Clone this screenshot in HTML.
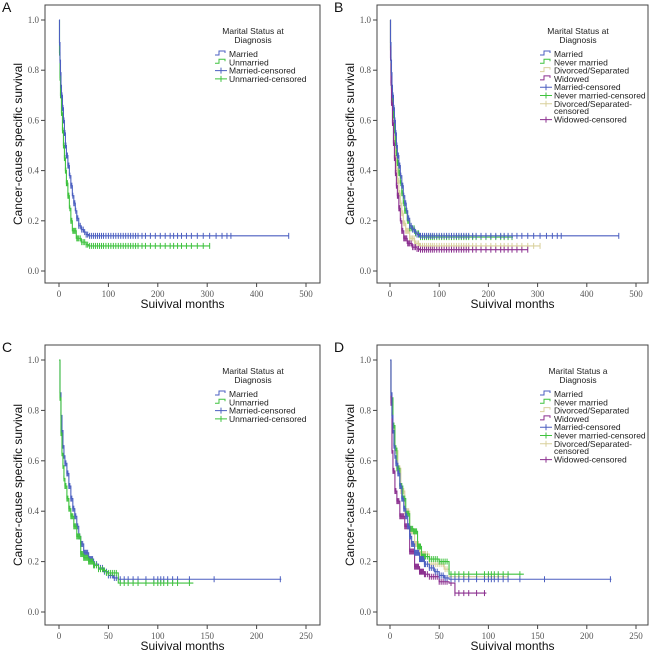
<!DOCTYPE html>
<html><head><meta charset="utf-8">
<style>
body{margin:0;background:#fff;width:650px;height:653px;overflow:hidden}
svg{display:block}
.tick{font-family:"Liberation Serif",serif;font-size:9px;fill:#555}
.leg{font-family:"Liberation Sans",sans-serif;font-size:8.5px;fill:#222}
.ttl{font-family:"Liberation Sans",sans-serif;font-size:12px;fill:#111}
.let{font-family:"Liberation Sans",sans-serif;font-size:14px;fill:#111}
</style></head>
<body>
<svg id="chart" width="650" height="653"></svg>
<script>
// ---- data ----
const yTicks=[0,0.2,0.4,0.6,0.8,1.0];
const xTicksAB=[0,100,200,300,400,500];
const xTicksCD=[0,50,100,150,200,250];
const aMarried=[[0,1],[1,0.91],[2,0.84],[3,0.79],[4,0.74],[5,0.70],[7,0.65],[9,0.60],[11,0.55],[13,0.50],[15,0.46],[18,0.42],[21,0.38],[24,0.34],[27,0.30],[30,0.27],[33,0.24],[36,0.21],[40,0.18],[45,0.165],[50,0.155],[55,0.145],[60,0.14],[465,0.14]];
const aUnmarried=[[0,1],[1,0.87],[2,0.77],[3,0.70],[5,0.63],[7,0.56],[9,0.50],[11,0.45],[13,0.40],[15,0.35],[18,0.30],[21,0.25],[24,0.20],[27,0.16],[35,0.13],[45,0.115],[55,0.105],[60,0.10],[305,0.10]];
const bNever=[[0,1],[1,0.88],[2,0.79],[3,0.73],[5,0.67],[7,0.62],[9,0.56],[11,0.51],[13,0.47],[15,0.43],[18,0.39],[21,0.35],[24,0.31],[27,0.27],[30,0.24],[35,0.20],[40,0.17],[50,0.15],[60,0.135],[250,0.135]];
const bDivorced=[[0,1],[1,0.89],[2,0.80],[3,0.73],[5,0.65],[7,0.58],[9,0.52],[11,0.46],[13,0.41],[15,0.36],[18,0.31],[21,0.27],[24,0.23],[27,0.19],[32,0.16],[40,0.13],[50,0.11],[60,0.10],[305,0.10]];
const bWidowed=[[0,1],[1,0.85],[2,0.75],[3,0.67],[5,0.59],[7,0.51],[9,0.45],[11,0.39],[13,0.34],[15,0.30],[18,0.25],[21,0.20],[24,0.16],[28,0.13],[35,0.11],[45,0.095],[55,0.088],[60,0.085],[280,0.085]];
const cMarried=[[0,1],[1,0.87],[2,0.78],[3,0.72],[4,0.66],[5,0.62],[6,0.59],[8,0.55],[10,0.50],[12,0.45],[14,0.41],[16,0.38],[18,0.34],[20,0.30],[22,0.27],[25,0.235],[30,0.21],[35,0.19],[40,0.175],[45,0.16],[50,0.145],[55,0.135],[60,0.13],[225,0.13]];
const cUnmarried=[[0,1],[1,0.85],[2,0.71],[3,0.63],[4,0.58],[5,0.53],[6,0.50],[8,0.45],[10,0.41],[12,0.38],[15,0.34],[18,0.30],[22,0.23],[25,0.215],[30,0.20],[35,0.185],[40,0.17],[45,0.165],[48,0.155],[60,0.115],[136,0.115]];
const dNever=[[0,1],[1,0.85],[3,0.74],[5,0.65],[7,0.57],[10,0.50],[13,0.45],[16,0.39],[20,0.33],[24,0.32],[28,0.26],[32,0.22],[40,0.21],[50,0.20],[60,0.15],[136,0.15]];
const dDivorced=[[0,1],[1,0.84],[3,0.72],[5,0.64],[8,0.57],[11,0.48],[15,0.40],[20,0.32],[25,0.27],[30,0.23],[40,0.19],[55,0.17],[60,0.14],[120,0.14]];
const dWidowed=[[0,1],[1,0.83],[2,0.64],[3,0.56],[5,0.48],[7,0.44],[10,0.38],[15,0.34],[20,0.24],[25,0.18],[30,0.16],[35,0.15],[40,0.14],[50,0.12],[60,0.115],[66,0.075],[98,0.075]];
const censLongAB=[62,66,70,74,78,82,86,90,95,100,105,110,115,120,125,130,135,140,145,150,155,160,168,175,185,195,205,215,225,232,240,248,258,268,280,292,305,318,330,340,348,465];
const censEarlyAB=[1,2,3,4,5,6,7,8,9,10,11,12,13,14,15,16,17,18,19,20,22,24,26,28,30,32,34,36,38,40,43,46,49,52,55,58];
const censLongC=[62,66,70,75,80,88,96,100,103,106,110,115,120,132,157,224];
const censEarlyC=[1,2,3,4,5,6,7,8,9,10,11,12,13,14,15,16,17,18,19,20,21,22,23,24,25,26,27,28,29,30,31,32,33,34,35,36,38,40,42,44,46,48,50,52,54,56,58];

const COL={blue:"#4b5fc0",green:"#3fc23f",tan:"#d9d09c",purple:"#8b2f8f"};
const svg=document.getElementById('chart');
const NS="http://www.w3.org/2000/svg";
function mk(tag,attrs,parent){const e=document.createElementNS(NS,tag);for(const k in attrs)e.setAttribute(k,attrs[k]);(parent||svg).appendChild(e);return e;}
function survAt(curve,t){let v=curve[0][1];for(const p of curve){if(p[0]<=t)v=p[1];else break;}return v;}

function panel(cfg){
  const g=mk('g',{});
  
  
  const xs=t=>cfg.x0+(t/cfg.xmax)*(cfg.x1-cfg.x0);
  const ys=v=>cfg.y0-v*(cfg.y0-cfg.y1);
  const L=mk('text',{x:cfg.bx-43,y:cfg.by+7,class:'let'},g);L.textContent=cfg.letter;
  
  const box=mk('rect',{x:cfg.bx,y:cfg.by,width:cfg.bw,height:cfg.bh,fill:'none',stroke:'#444','stroke-width':1},g);
  
  yTicks.forEach(v=>{
    mk('line',{x1:cfg.bx-4,x2:cfg.bx,y1:ys(v),y2:ys(v),stroke:'#444'},g);
    const t=mk('text',{x:cfg.bx-6,y:ys(v)+3,'text-anchor':'end',class:'tick'},g);t.textContent=v.toFixed(1);
    
  });
  cfg.xt.forEach(v=>{
    mk('line',{x1:xs(v),x2:xs(v),y1:cfg.by+cfg.bh,y2:cfg.by+cfg.bh+4,stroke:'#444'},g);
    const t=mk('text',{x:xs(v),y:cfg.by+cfg.bh+14,'text-anchor':'middle',class:'tick'},g);t.textContent=v;
    
  });
  const xt=mk('text',{x:cfg.bx+cfg.bw/2,y:cfg.by+cfg.bh+25,'text-anchor':'middle',class:'ttl'},g);xt.textContent='Suivival months';
  
  const cy=cfg.by+cfg.bh/2;
  const yt=mk('text',{x:cfg.bx-23,y:cy,'text-anchor':'middle',class:'ttl',transform:`rotate(-90 ${cfg.bx-23} ${cy})`},g);yt.textContent='Cancer-cause specific survival';
  
  cfg.series.forEach(s=>{
    let d='M'+xs(s.c[0][0])+','+ys(s.c[0][1]);
    for(let i=1;i<s.c.length;i++){d+='H'+xs(s.c[i][0])+'V'+ys(s.c[i][1]);}
    const p=mk('path',{d:d,fill:'none',stroke:s.col,'stroke-width':1.1},g);
    
    const last=s.c[s.c.length-1][0];
    s.cens.filter(t=>t<=last).forEach(t=>{
      const m=mk('path',{d:`M${xs(t)},${ys(survAt(s.c,t))-3}v6`,stroke:s.col,'stroke-width':1},g);
      
    });
  });
  const lx=cfg.lx, ly=cfg.ly;
  const t1=mk('text',{x:lx+38,y:ly,'text-anchor':'middle',class:'leg','font-size':'9.5'},g);t1.textContent=cfg.title1;
  
  const t2=mk('text',{x:lx+38,y:ly+9,'text-anchor':'middle',class:'leg','font-size':'9.5'},g);t2.textContent='Diagnosis';
  
  let yy=ly+20;
  cfg.legend.forEach(e=>{
    const eg=mk('g',{},g);
    
    if(e.cens){mk('path',{d:`M${lx},${yy}h12M${lx+6},${yy-3}v6`,stroke:e.col,'stroke-width':1},eg);}
    else{mk('path',{d:`M${lx},${yy+1}h4v-4h6v2`,fill:'none',stroke:e.col,'stroke-width':1},eg);}
    const lines=e.t.split('|');
    lines.forEach((ln,i)=>{const t=mk('text',{x:lx+14,y:yy+3+i*7,class:'leg'},eg);t.textContent=ln;});
    yy+=8.3+(lines.length-1)*7.5;
  });
}
const leg2=[{t:'Married',col:COL.blue},{t:'Unmarried',col:COL.green},{t:'Married-censored',col:COL.blue,cens:1},{t:'Unmarried-censored',col:COL.green,cens:1}];
const leg4=[{t:'Married',col:COL.blue},{t:'Never married',col:COL.green},{t:'Divorced/Separated',col:COL.tan},{t:'Widowed',col:COL.purple},{t:'Married-censored',col:COL.blue,cens:1},{t:'Never married-censored',col:COL.green,cens:1},{t:'Divorced/Separated-|censored',col:COL.tan,cens:1},{t:'Widowed-censored',col:COL.purple,cens:1}];
const allAB=censEarlyAB.concat(censLongAB), allC=censEarlyC.concat(censLongC);
panel({letter:'A',bx:45,by:5,bw:275,bh:278,x0:59,x1:306,xmax:500,y0:271,y1:20,xt:xTicksAB,lx:215,ly:34,title1:'Marital Status at',legend:leg2,
 series:[{key:'unmarried',c:aUnmarried,col:COL.green,cens:allAB},{key:'married',c:aMarried,col:COL.blue,cens:allAB}]});
panel({letter:'B',bx:377,by:5,bw:271,bh:278,x0:390,x1:636,xmax:500,y0:271,y1:20,xt:xTicksAB,lx:540,ly:34,title1:'Marital Status at',legend:leg4,
 series:[{key:'divorced',c:bDivorced,col:COL.tan,cens:allAB},{key:'never-married',c:bNever,col:COL.green,cens:allAB},{key:'widowed',c:bWidowed,col:COL.purple,cens:allAB},{key:'married',c:aMarried,col:COL.blue,cens:allAB}]});
panel({letter:'C',bx:45,by:345,bw:275,bh:280,x0:59,x1:306,xmax:250,y0:612,y1:360,xt:xTicksCD,lx:215,ly:374,title1:'Marital Status at',legend:leg2,
 series:[{key:'married',c:cMarried,col:COL.blue,cens:allC},{key:'unmarried',c:cUnmarried,col:COL.green,cens:allC}]});
panel({letter:'D',bx:377,by:345,bw:271,bh:280,x0:390,x1:636,xmax:250,y0:612,y1:360,xt:xTicksCD,lx:540,ly:374,title1:'Marital Status a',legend:leg4,
 series:[{key:'divorced',c:dDivorced,col:COL.tan,cens:allC},{key:'never-married',c:dNever,col:COL.green,cens:allC},{key:'widowed',c:dWidowed,col:COL.purple,cens:allC},{key:'married',c:cMarried,col:COL.blue,cens:allC}]});
</script>
</body></html>
